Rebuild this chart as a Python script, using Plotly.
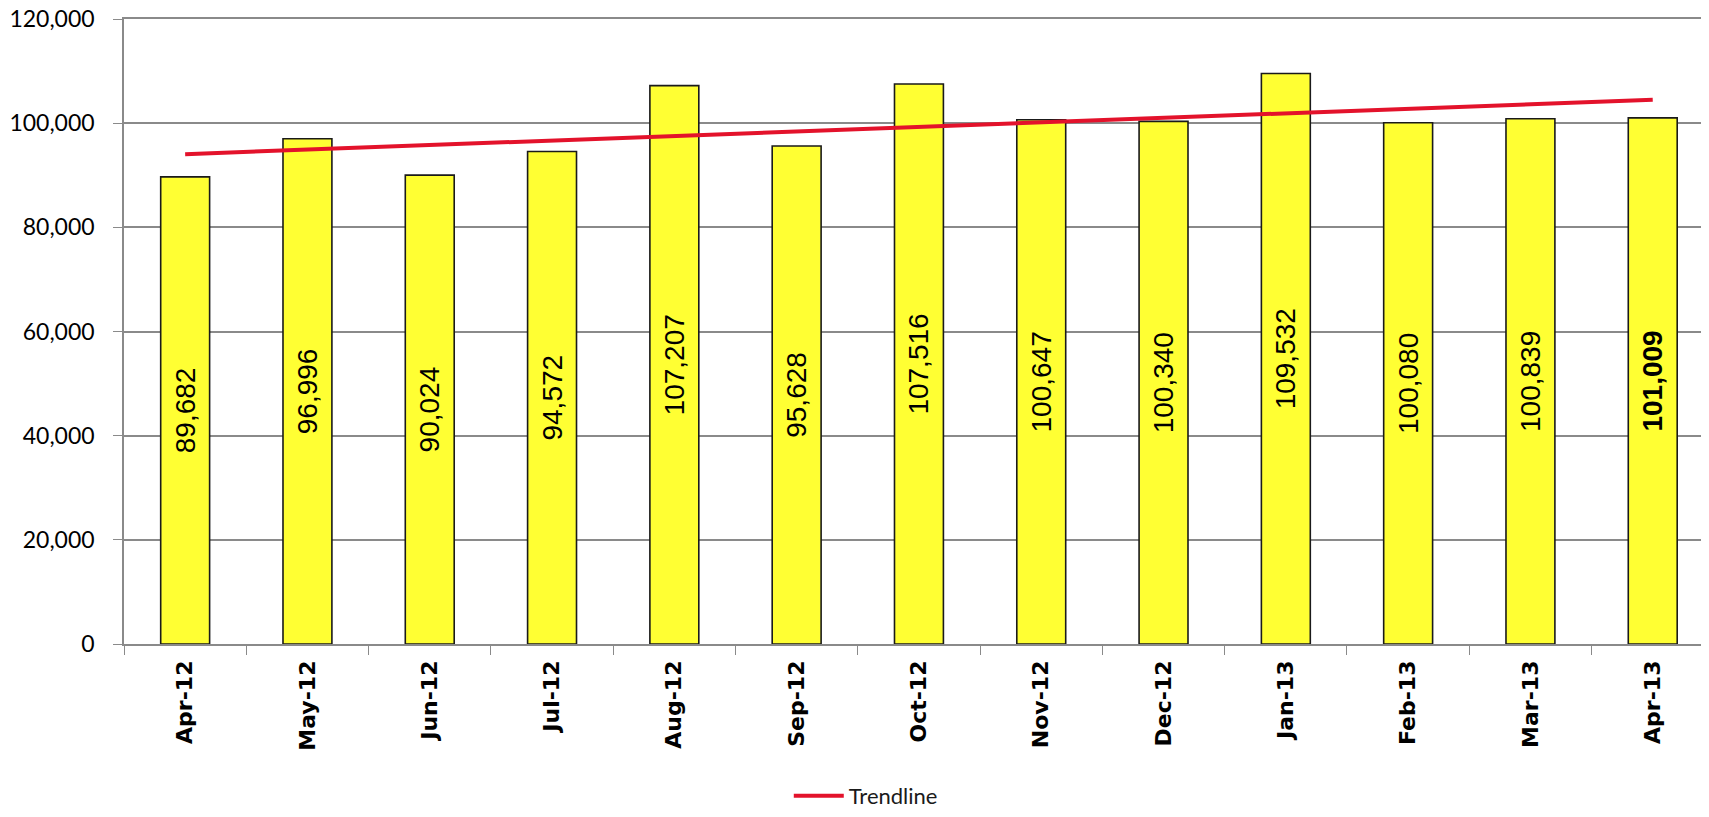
"""
Monthly totals bar chart with linear trendline overlay
"""
import plotly.graph_objects as go


# ── Data ──────────────────────────────────────────────────────────────────────
months = ["Apr-12", "May-12", "Jun-12", "Jul-12", "Aug-12", "Sep-12", "Oct-12",
          "Nov-12", "Dec-12", "Jan-13", "Feb-13", "Mar-13", "Apr-13"]
values = [89682, 96996, 90024, 94572, 107207, 95628, 107516,
          100647, 100340, 109532, 100080, 100839, 101009]
# trendline end points
trend_x = [months[0], months[-1]]
trend_y = [94050, 104500]
y_ticks = [0, 20000, 40000, 60000, 80000, 100000, 120000]

# ── Palette ───────────────────────────────────────────────────────────────────
COLORS = {
    "bar":   "#ffff33",
    "edge":  "#1a1a1a",
    "trend": "#e3122b",
    "grid":  "#8a8a8a",
    "text":  "#000000",
}

# last month is shown in bold
labels = [f"{v:,}" for v in values]
labels[-1] = f"<b>{labels[-1]}</b>"

fig = go.Figure()

fig.add_trace(go.Bar(
    x=months, y=values,
    width=0.40,
    marker=dict(color=COLORS["bar"], line=dict(color=COLORS["edge"], width=1.6)),
    text=labels,
    texttemplate="%{text}",
    textposition="inside",
    insidetextanchor="middle",
    textangle=-90,
    textfont=dict(family="Liberation Sans, Arial, sans-serif", size=28, color=COLORS["text"]),
    constraintext="none",
    showlegend=False,
    hoverinfo="skip",
))

fig.add_trace(go.Scatter(
    x=trend_x, y=trend_y,
    mode="lines",
    line=dict(color=COLORS["trend"], width=4),
    name="Trendline",
))

# page body has an 8px margin, so the figure is sized to fit the window
fig.update_layout(
    width=1701, height=809,
    paper_bgcolor="white",
    plot_bgcolor="white",
    margin=dict(l=116, r=0, t=11, b=168),
    legend=dict(
        orientation="h", x=0.468, xanchor="center", y=-0.244, yanchor="middle",
        font=dict(family="Lato, sans-serif", size=22, color="#1a1a1a"),
        bgcolor="rgba(0,0,0,0)",
        itemwidth=50,
    ),
    xaxis=dict(
        type="category",
        range=[-0.5, 12.46],
        automargin=False,
        showgrid=False,
        showline=True, mirror=True, linecolor=COLORS["grid"], linewidth=1.5,
        ticks="outside", tickson="boundaries", ticklen=9, tickcolor=COLORS["grid"],
        tickangle=-90,
        ticklabelstandoff=6,
        tickfont=dict(family="DejaVu Sans, sans-serif", size=22, weight="bold",
                      color=COLORS["text"]),
    ),
    yaxis=dict(
        range=[0, 120000],
        automargin=False,
        tickvals=y_ticks,
        tickformat=",",
        showgrid=True, gridcolor=COLORS["grid"], gridwidth=1.5,
        zeroline=False,
        showline=True, linecolor=COLORS["grid"], linewidth=1.5,
        ticks="outside", ticklen=9, tickcolor=COLORS["grid"],
        ticklabelstandoff=14,
        ticklabeloverflow="allow",
        tickfont=dict(family="Lato, sans-serif", size=23, color=COLORS["text"]),
    ),
)

fig.write_html("out.html")
